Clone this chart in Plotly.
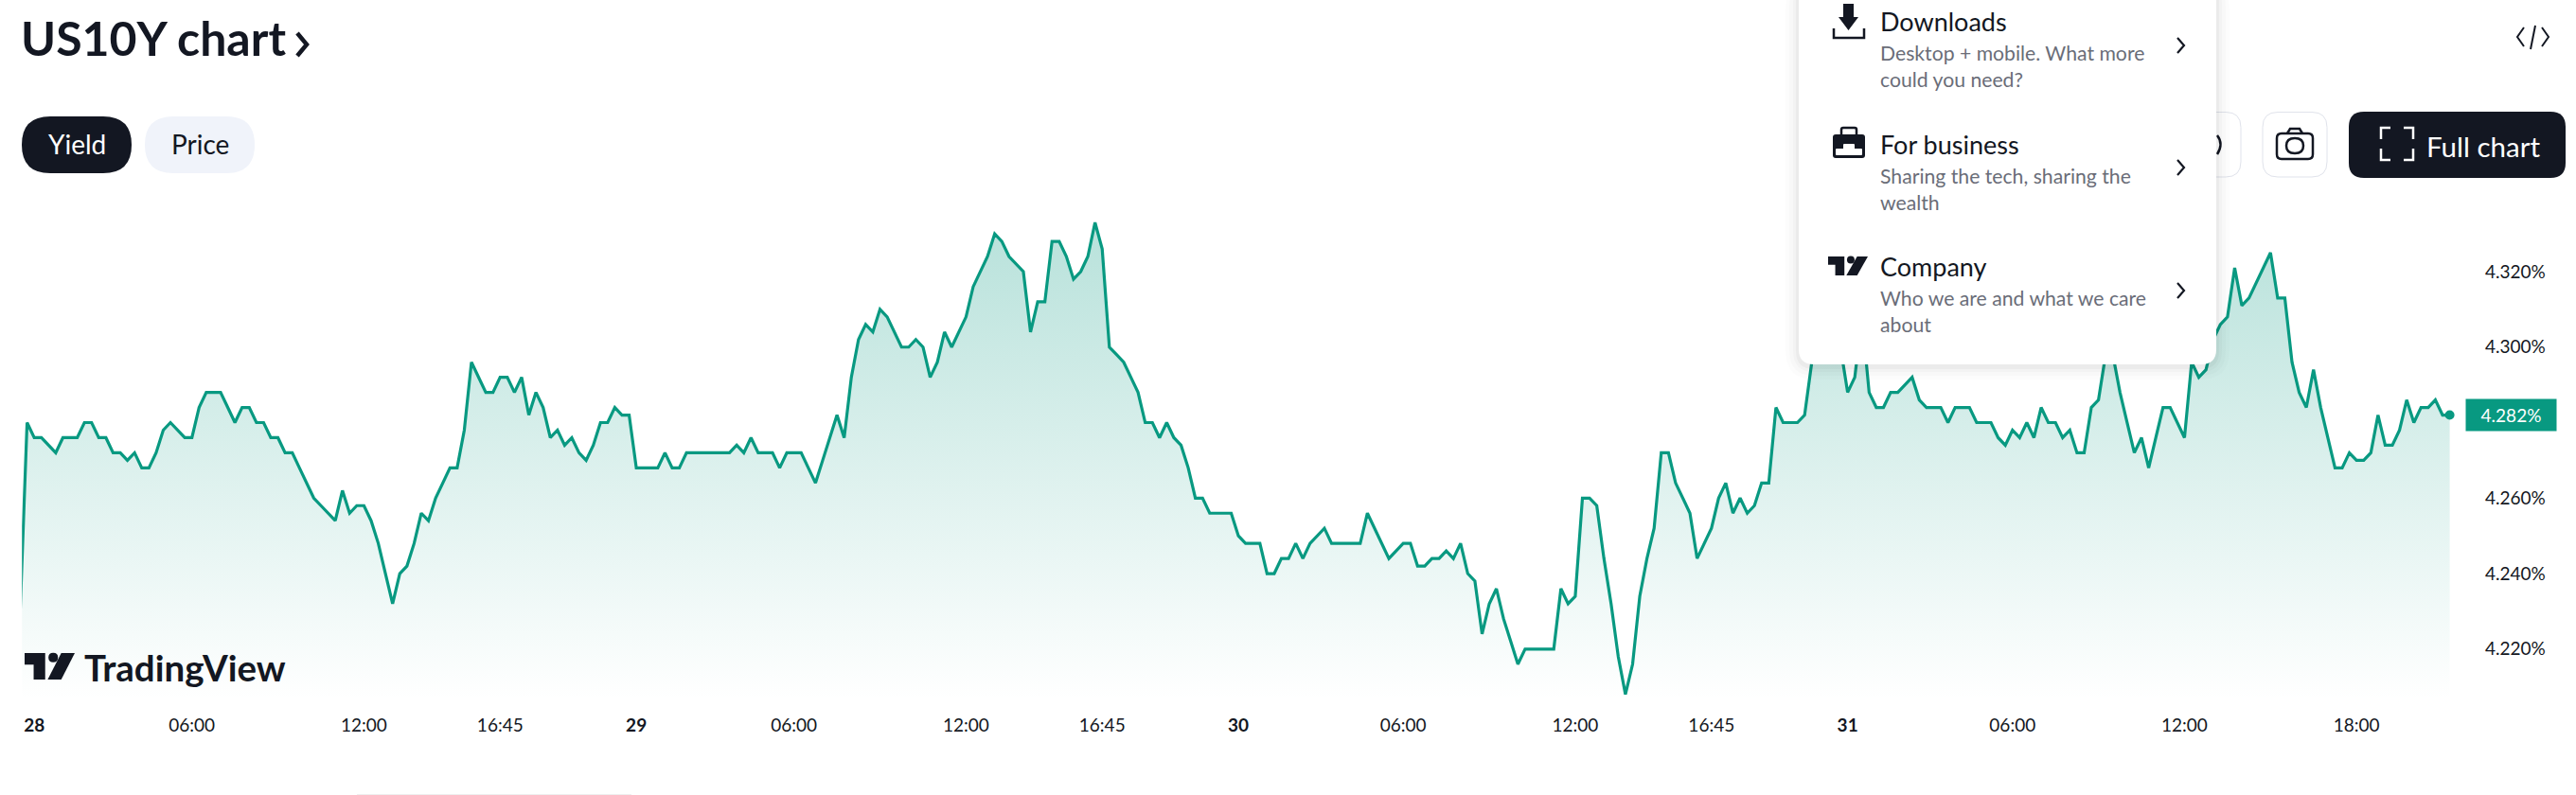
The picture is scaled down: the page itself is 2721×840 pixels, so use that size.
import numpy as np
import plotly.graph_objects as go

W = 2721
H = 840
FONT = "Lato"
INK = "#131722"
GREY = "#6a6d78"
GREEN = "#089981"

# 15 minute bars, one list per session
yield_28 = [
    4.228, 4.28, 4.276, 4.276, 4.274, 4.272, 4.276, 4.276, 4.276, 4.28, 4.28, 4.276, 4.276, 4.272, 4.272,
    4.27, 4.272, 4.268, 4.268, 4.272, 4.278, 4.28, 4.278, 4.276, 4.276, 4.284, 4.288, 4.288, 4.288, 4.284,
    4.28, 4.284, 4.284, 4.28, 4.28, 4.276, 4.276, 4.272, 4.272, 4.268, 4.264, 4.26, 4.258, 4.256, 4.254,
    4.262, 4.256, 4.258, 4.258, 4.254, 4.248, 4.24, 4.232, 4.24, 4.242, 4.248, 4.256, 4.254, 4.26, 4.264,
    4.268, 4.268, 4.278, 4.296, 4.292, 4.288, 4.288, 4.292, 4.292, 4.288, 4.292, 4.282, 4.288, 4.284, 4.276,
    4.278, 4.274, 4.276, 4.272, 4.27, 4.274, 4.28, 4.28, 4.284, 4.282, 4.282,
]
yield_29 = [
    4.268, 4.268, 4.268, 4.268, 4.272, 4.268, 4.268, 4.272, 4.272, 4.272, 4.272, 4.272, 4.272, 4.272, 4.274,
    4.272, 4.276, 4.272, 4.272, 4.272, 4.268, 4.272, 4.272, 4.272, 4.268, 4.264, 4.27, 4.276, 4.282, 4.276,
    4.292, 4.302, 4.306, 4.304, 4.31, 4.308, 4.304, 4.30, 4.30, 4.302, 4.30, 4.292, 4.296, 4.304, 4.30,
    4.304, 4.308, 4.316, 4.32, 4.324, 4.33, 4.328, 4.324, 4.322, 4.32, 4.304, 4.312, 4.312, 4.328, 4.328,
    4.324, 4.318, 4.32, 4.324, 4.333, 4.326, 4.30, 4.298, 4.296, 4.292, 4.288, 4.28, 4.28, 4.276, 4.28,
    4.276, 4.274, 4.268, 4.26, 4.26, 4.256, 4.256, 4.256, 4.256,
]
yield_30 = [
    4.25, 4.248, 4.248, 4.248, 4.24, 4.24, 4.244, 4.244, 4.248, 4.244, 4.248, 4.25, 4.252, 4.248, 4.248,
    4.248, 4.248, 4.248, 4.256, 4.252, 4.248, 4.244, 4.246, 4.248, 4.248, 4.242, 4.242, 4.244, 4.244, 4.246,
    4.244, 4.248, 4.24, 4.238, 4.224, 4.232, 4.236, 4.228, 4.222, 4.216, 4.22, 4.22, 4.22, 4.22, 4.22,
    4.236, 4.232, 4.234, 4.26, 4.26, 4.258, 4.244, 4.232, 4.218, 4.208, 4.216, 4.234, 4.244, 4.252, 4.272,
    4.272, 4.264, 4.26, 4.256, 4.244, 4.248, 4.252, 4.26, 4.264, 4.256, 4.26, 4.256, 4.258, 4.264, 4.264,
    4.284, 4.28, 4.28, 4.28, 4.282, 4.296, 4.306, 4.308, 4.304, 4.30,
]
yield_31 = [
    4.288, 4.292, 4.308, 4.288, 4.284, 4.284, 4.288, 4.288, 4.29, 4.292, 4.286, 4.284, 4.284, 4.284, 4.28,
    4.284, 4.284, 4.284, 4.28, 4.28, 4.28, 4.276, 4.274, 4.278, 4.276, 4.28, 4.276, 4.284, 4.28, 4.28,
    4.276, 4.278, 4.272, 4.272, 4.284, 4.286, 4.298, 4.298, 4.288, 4.28, 4.272, 4.276, 4.268, 4.276, 4.284,
    4.284, 4.28, 4.276, 4.296, 4.292, 4.294, 4.302, 4.306, 4.308, 4.321, 4.311, 4.313, 4.317, 4.321, 4.325,
    4.313, 4.313, 4.296, 4.288, 4.284, 4.294, 4.284, 4.276, 4.268, 4.268, 4.272, 4.27, 4.27, 4.272, 4.282,
    4.274, 4.274, 4.278, 4.286, 4.28, 4.284, 4.284, 4.286, 4.282, 4.282,
]
x_ticks = [1, 23, 47, 66, 85, 107, 131, 150, 169, 192, 216, 235, 254, 277, 301, 325]
x_labels = ["<b>28</b>", "06:00", "12:00", "16:45", "<b>29</b>", "06:00", "12:00", "16:45",
            "<b>30</b>", "06:00", "12:00", "16:45", "<b>31</b>", "06:00", "12:00", "18:00"]
y_ticks = [4.22, 4.24, 4.26, 4.28, 4.30, 4.32]
y_labels = ["4.220%", "4.240%", "4.260%", "", "4.300%", "4.320%"]

values = yield_28 + yield_29 + yield_30 + yield_31
bars = np.arange(len(values)) - 1


def px(x):
    return x / W


def py(y):
    return 1 - y / H


def rounded(x0, y0, x1, y1, r):
    return (f"M{px(x0 + r)},{py(y0)} L{px(x1 - r)},{py(y0)} Q{px(x1)},{py(y0)} {px(x1)},{py(y0 + r)} "
            f"L{px(x1)},{py(y1 - r)} Q{px(x1)},{py(y1)} {px(x1 - r)},{py(y1)} "
            f"L{px(x0 + r)},{py(y1)} Q{px(x0)},{py(y1)} {px(x0)},{py(y1 - r)} "
            f"L{px(x0)},{py(y0 + r)} Q{px(x0)},{py(y0)} {px(x0 + r)},{py(y0)} Z")


def poly(points, close=False):
    d = "M" + " L".join(f"{px(a)},{py(b)}" for a, b in points)
    return d + (" Z" if close else "")


shapes = []
texts = []


def fill_shape(path, color, opacity=1):
    shapes.append(dict(type="path", xref="paper", yref="paper", path=path, fillcolor=color,
                       opacity=opacity, line=dict(width=0), layer="above"))


def stroke_shape(path, color, width=2.0):
    shapes.append(dict(type="path", xref="paper", yref="paper", path=path,
                       line=dict(color=color, width=width), layer="above"))


def text(x, y, s, size, color=INK, anchor="left"):
    texts.append(dict(x=px(x), y=py(y), xref="paper", yref="paper", text=s, showarrow=False,
                      xanchor=anchor, yanchor="middle", xshift=0, borderpad=0,
                      font=dict(family=FONT, size=size, color=color)))


def tv_logo(x0, y0, w, h):
    def p(a, b):
        return (x0 + a * w, y0 + b * h)
    fill_shape(poly([p(0, 0), p(0.41, 0), p(0.41, 1), p(0.18, 1), p(0.18, 0.44), p(0, 0.44)], True), INK)
    fill_shape(poly([p(0.73, 0), p(1, 0), p(0.73, 1), p(0.46, 1)], True), INK)
    cx, cy = p(0.57, 0.17)
    r = 0.095 * w
    fill_shape(f"M{px(cx - r)},{py(cy)} Q{px(cx - r)},{py(cy - r)} {px(cx)},{py(cy - r)} "
               f"Q{px(cx + r)},{py(cy - r)} {px(cx + r)},{py(cy)} Q{px(cx + r)},{py(cy + r)} {px(cx)},{py(cy + r)} "
               f"Q{px(cx - r)},{py(cy + r)} {px(cx - r)},{py(cy)} Z", INK)


def chevron(x, y, w, h, color=INK, width=2.0):
    stroke_shape(poly([(x, y - h), (x + w, y), (x, y + h)]), color, width)


# heading and the two pills
text(21, 40, "<b>US10Y chart</b>", 50)
chevron(314, 47, 10, 12, INK, 4.5)
fill_shape(rounded(23, 123, 139, 183, 30), INK)
fill_shape(rounded(153, 123, 269, 183, 30), "#f0f3fa")
text(81, 152, "Yield", 28, "#ffffff", "center")
text(211, 152, "Price", 28, INK, "center")

# toolbar at the right
stroke_shape(rounded(2300, 118.5, 2367, 187, 16), "#e0e3eb", 1)
stroke_shape(rounded(2390, 118.5, 2458, 187, 16), "#e0e3eb", 1)
stroke_shape(f"M{px(2342)},{py(143)} Q{px(2349)},{py(152)} {px(2342)},{py(163)}", INK, 2.5)
fill_shape(rounded(2481, 118, 2710, 188, 16), INK)
text(2623, 154, "Full chart", 29.5, "#ffffff", "center")
for a, b, c, d in [(2515, 147, 2515, 135), (2549, 147, 2549, 135), (2515, 157, 2515, 169), (2549, 157, 2549, 169)]:
    e = 2525 if a == 2515 else 2539
    stroke_shape(poly([(a, b), (c, d), (e, d)]), "#ffffff", 2.5)
stroke_shape(rounded(2405, 141, 2443, 168, 5), INK, 2.5)
stroke_shape(poly([(2416, 141), (2419, 136), (2429, 136), (2432, 141)]), INK, 2.5)
stroke_shape(f"M{px(2415)},{py(154)} Q{px(2415)},{py(146)} {px(2424)},{py(146)} Q{px(2433)},{py(146)} {px(2433)},{py(154)} "
             f"Q{px(2433)},{py(162)} {px(2424)},{py(162)} Q{px(2415)},{py(162)} {px(2415)},{py(154)} Z", INK, 2.5)
stroke_shape(poly([(2666, 29), (2659, 39), (2666, 49)]), INK, 2)
stroke_shape(poly([(2685, 29), (2692, 39), (2685, 49)]), INK, 2)
stroke_shape(poly([(2678, 27), (2673, 52)]), INK, 2)

# dropdown panel, shadow first
for grow, alpha in [(14, 0.012), (10, 0.016), (6, 0.02), (3, 0.03)]:
    fill_shape(rounded(1900 - grow, -20, 2341 + grow, 385 + grow + 2, 16 + grow), "#000000", alpha)
fill_shape(rounded(1900, -20, 2341, 385, 16), "#ffffff")

text(1985, 22, "Downloads", 27)
text(1985, 56, "Desktop + mobile. What more", 21.2, GREY)
text(1985, 84, "could you need?", 21.2, GREY)
text(1985, 152, "For business", 27)
text(1985, 186, "Sharing the tech, sharing the", 21.2, GREY)
text(1985, 214, "wealth", 21.2, GREY)
text(1985, 282, "Company", 27)
text(1985, 315, "Who we are and what we care", 21.2, GREY)
text(1985, 343, "about", 21.2, GREY)
for yy in [48, 177, 307]:
    chevron(2300, yy, 7, 8, INK, 2.2)

# menu icons
fill_shape(poly([(1947, 4), (1958, 4), (1958, 18), (1963, 18), (1952.5, 32), (1942, 18), (1947, 18)], True), INK)
stroke_shape(poly([(1937, 30), (1937, 40), (1969, 40), (1969, 30)]), INK, 2.5)
stroke_shape(rounded(1945, 135, 1961, 145, 2), INK, 2.5)
fill_shape(rounded(1936, 142, 1970, 167, 3), INK)
fill_shape(rounded(1939, 157, 1967, 164, 1), "#ffffff")
fill_shape(rounded(1947, 152, 1959, 158, 1), "#ffffff")
tv_logo(1931, 271, 42, 20)

# watermark, bottom left of the plot
tv_logo(26, 690, 53, 28)
text(88, 705, "<b>TradingView</b>", 38.5)

# sliver of page content along the bottom edge
shapes.append(dict(type="line", xref="paper", yref="paper", x0=px(377), x1=px(667), y0=py(839.5), y1=py(839.5),
                   line=dict(color="#eeeeee", width=1), layer="below"))

texts.append(dict(x=px(2652.5), y=values[-1], xref="paper", yref="y", text="4.282%", showarrow=False,
                  xanchor="center", yanchor="middle", bgcolor=GREEN, width=93, height=31,
                  font=dict(family=FONT, size=19, color="#ffffff")))

fig = go.Figure()
fig.add_trace(go.Scatter(
    x=bars, y=values, mode="lines",
    line=dict(color=GREEN, width=3.2, shape="linear"),
    fill="tozeroy",
    fillgradient=dict(type="vertical",
                      colorscale=[[0, "rgba(8,153,129,0.30)"], [1, "rgba(8,153,129,0)"]],
                      start=4.338, stop=4.2065),
    hoverinfo="skip",
))
fig.add_trace(go.Scatter(
    x=bars[-1:], y=values[-1:], mode="markers",
    marker=dict(color=GREEN, size=10), hoverinfo="skip",
))

fig.update_xaxes(
    domain=[23.2 / W, 2605 / W], range=[-0.713, 340.3],
    tickmode="array", tickvals=x_ticks, ticktext=x_labels,
    tickfont=dict(family=FONT, size=19, color=INK), ticklabelstandoff=8,
    showgrid=False, zeroline=False, showline=False, ticks="",
)
fig.update_yaxes(
    domain=[1 - 745 / H, 1 - 210 / H], range=[4.20516, 4.3393], side="right",
    tickmode="array", tickvals=y_ticks, ticktext=y_labels,
    tickfont=dict(family=FONT, size=19, color=INK), ticklabelstandoff=19,
    showgrid=False, zeroline=False, showline=False, ticks="",
)
fig.update_layout(
    width=W, height=H, autosize=False,
    margin=dict(l=0, r=0, t=0, b=0),
    paper_bgcolor="#ffffff", plot_bgcolor="#ffffff",
    showlegend=False, shapes=shapes, annotations=texts,
)
fig.write_html("out.html", config=dict(displayModeBar=False),
               post_script="document.body.style.margin='0';document.body.style.overflow='hidden';")
